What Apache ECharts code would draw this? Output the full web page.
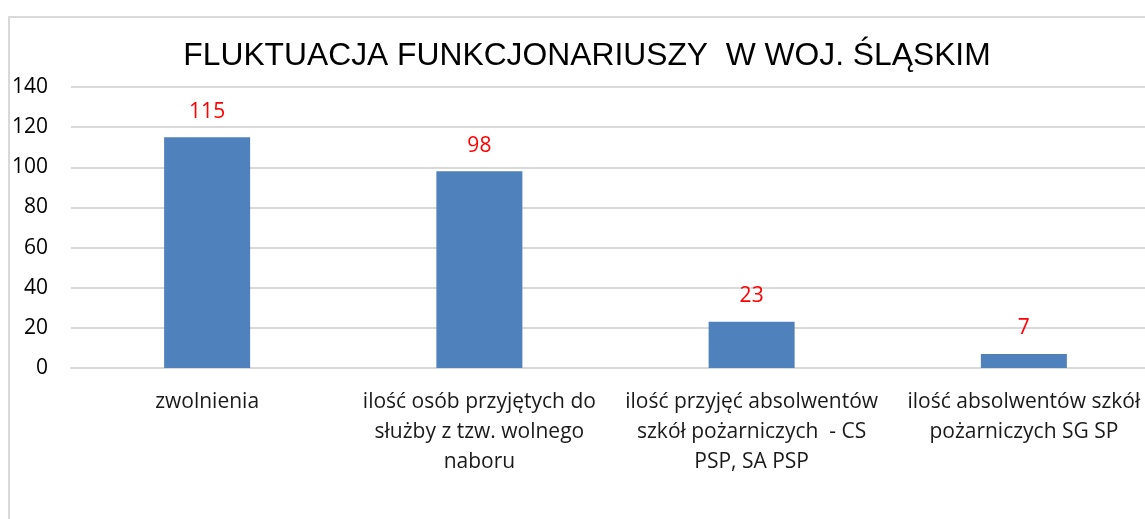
<!DOCTYPE html>
<html>
<head>
<meta charset="utf-8">
<script src="https://cdn.jsdelivr.net/npm/echarts@6/dist/echarts.min.js"></script>
<style>
  html, body { margin: 0; padding: 0; background: #fff; overflow: hidden; }
  #main { position: absolute; left: 0; top: 0; width: 1200px; height: 560px; }
</style>
</head>
<body>
<div id="main"></div>
<script>
var title = 'FLUKTUACJA FUNKCJONARIUSZY  W WOJ. ŚLĄSKIM'
var categories = [
  'zwolnienia',
  'ilość osób przyjętych do\nsłużby z tzw. wolnego\nnaboru',
  'ilość przyjęć absolwentów\nszkół pożarniczych  - CS\nPSP, SA PSP',
  'ilość absolwentów szkół\npożarniczych SG SP'
]
var values = [115, 98, 23, 7]
var yTicks = [0, 20, 40, 60, 80, 100, 120, 140]

var chart = echarts.init(document.getElementById('main'), null, { renderer: 'canvas' })

chart.setOption({
  backgroundColor: '#fff',
  animation: false,
  title: {
    text: title,
    left: 582,
    textAlign: 'center',
    top: 35,
    textStyle: { fontFamily: 'Liberation Sans', fontSize: 31.8, fontWeight: 'normal', color: '#000' }
  },
  graphic: [{
    type: 'rect',
    shape: { x: 9, y: 17, width: 1400, height: 700 },
    style: { fill: 'none', stroke: '#d9d9d9', lineWidth: 2 },
    silent: true
  }],
  grid: { left: 71, right: 40, top: 87, bottom: 192, containLabel: false },
  xAxis: {
    type: 'category',
    data: categories,
    axisLine: { show: true, lineStyle: { color: '#d9d9d9', width: 2 } },
    axisTick: { show: false },
    axisLabel: {
      interval: 0,
      margin: 19,
      color: '#1a1a1a',
      fontFamily: 'Open Sans',
      fontSize: 21,
      lineHeight: 30
    }
  },
  yAxis: {
    type: 'value',
    min: yTicks[0],
    max: yTicks[yTicks.length - 1],
    interval: 20,
    axisLine: { show: false },
    axisTick: { show: false },
    splitLine: { lineStyle: { color: '#d9d9d9', width: 2 } },
    axisLabel: {
      margin: 23,
      color: '#000',
      fontFamily: 'Open Sans',
      fontSize: 21
    }
  },
  series: [{
    type: 'bar',
    data: values,
    barWidth: 86,
    itemStyle: { color: '#4f81bd' },
    label: {
      show: true,
      position: 'top',
      distance: 15,
      color: '#ff0000',
      fontFamily: 'Open Sans',
      fontSize: 21
    }
  }]
})
</script>
</body>
</html>
